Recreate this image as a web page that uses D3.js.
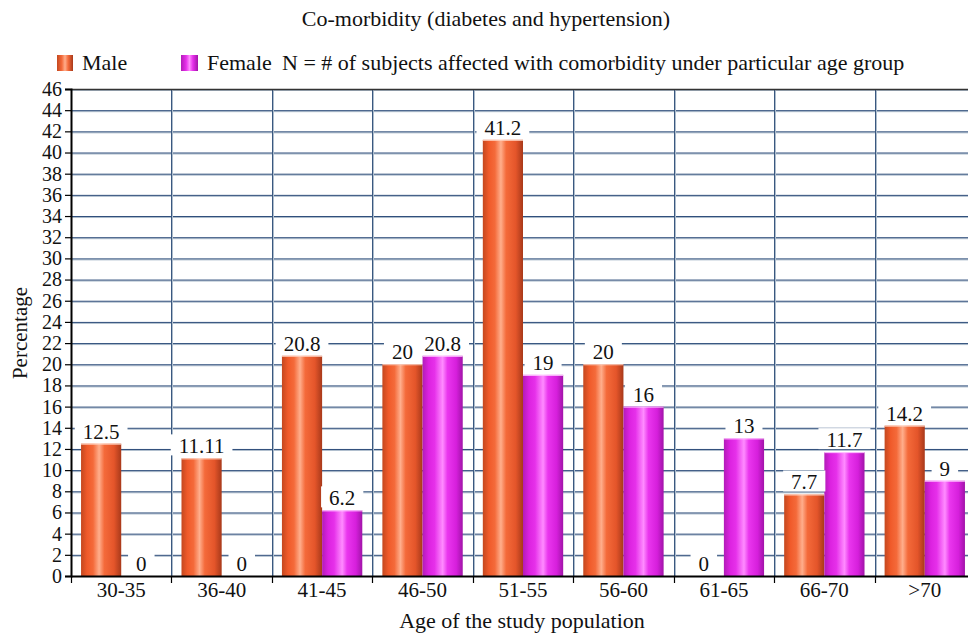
<!DOCTYPE html>
<html>
<head>
<meta charset="utf-8">
<script src="https://cdn.jsdelivr.net/npm/d3@7/dist/d3.min.js"></script>
<style>
  html, body { margin: 0; padding: 0; background: #fff; }
  svg text { font-family: "Liberation Serif", "DejaVu Serif", serif; }
</style>
</head>
<body>
<svg id="chart" width="968" height="635"></svg>
<script>
// Age groups and percentage of subjects with both diabetes and hypertension
const ageGroups = ["30-35", "36-40", "41-45", "46-50", "51-55", "56-60", "61-65", "66-70", ">70"];
const maleValues = [12.5, 11.11, 20.8, 20, 41.2, 20, 0, 7.7, 14.2];
const femaleValues = [0, 0, 6.2, 20.8, 19, 16, 13, 11.7, 9];
const maleLabels = ["12.5", "11.11", "20.8", "20", "41.2", "20", "0", "7.7", "14.2"];
const femaleLabels = ["0", "0", "6.2", "20.8", "19", "16", "13", "11.7", "9"];
const yTicks = d3.range(0, 47, 2);
const seriesNames = ["Male", "Female"];

const FONT = "'Liberation Serif', 'DejaVu Serif', serif";
const INK = "#111";
const svg = d3.select("#chart");
const plotL = 71, plotR = 975, plotT = 89, plotB = 576;

const x = d3.scaleBand().domain(ageGroups).range([plotL, plotR]).paddingInner(0).paddingOuter(0);
const xs = d3.scaleBand().domain(seriesNames).range([0, x.bandwidth()]).paddingInner(0).paddingOuter(0.25);
const y = d3.scaleLinear().domain([0, 46]).range([plotB, plotT]);

// Gradients for the cylindrical bar shading
const defs = svg.append("defs");
function makeGrad(id, stops) {
  const g = defs.append("linearGradient").attr("id", id).attr("x1", "0%").attr("x2", "100%").attr("y1", "0%").attr("y2", "0%");
  stops.forEach(s => g.append("stop").attr("offset", s[0]).attr("stop-color", s[1]));
}
makeGrad("gMale", [["0%", "#c4481f"], ["15%", "#f05a2a"], ["30%", "#f46a3a"], ["45%", "#ffae8c"], ["58%", "#f46a3a"], ["82%", "#e4552a"], ["100%", "#a8391a"]]);
makeGrad("gFemale", [["0%", "#b21cb8"], ["15%", "#dc22e0"], ["30%", "#e630ea"], ["50%", "#ff8cff"], ["62%", "#ea36ee"], ["84%", "#d61fdc"], ["100%", "#a114a8"]]);
makeGrad("gMaleSw", [["0%", "#c4481f"], ["30%", "#f46a3a"], ["50%", "#ffae8c"], ["70%", "#f46a3a"], ["100%", "#a8391a"]]);
makeGrad("gFemaleSw", [["0%", "#b21cb8"], ["30%", "#e630ea"], ["50%", "#ff8cff"], ["70%", "#e630ea"], ["100%", "#a114a8"]]);

// Horizontal gridlines (dark line with a pale line beneath)
const grid = svg.append("g");
yTicks.filter(t => t > 0).forEach(t => {
  grid.append("line").attr("x1", plotL).attr("x2", plotR).attr("y1", y(t) + 1.5).attr("y2", y(t) + 1.5)
    .attr("stroke", "#aebdcc").attr("stroke-width", 1);
  grid.append("line").attr("x1", plotL).attr("x2", plotR).attr("y1", y(t) + 0.5).attr("y2", y(t) + 0.5)
    .attr("stroke", "#2a4a78").attr("stroke-width", 1);
});
// Vertical gridlines at category boundaries
ageGroups.slice(1).forEach(g => {
  const xv = Math.round(x(g));
  grid.append("line").attr("x1", xv + 1.5).attr("x2", xv + 1.5).attr("y1", plotT).attr("y2", plotB)
    .attr("stroke", "#aebdcc").attr("stroke-width", 1);
  grid.append("line").attr("x1", xv + 0.5).attr("x2", xv + 0.5).attr("y1", plotT).attr("y2", plotB)
    .attr("stroke", "#3a5880").attr("stroke-width", 1);
});
// Top border
grid.append("line").attr("x1", plotL).attr("x2", plotR).attr("y1", plotT + 0.5).attr("y2", plotT + 0.5)
  .attr("stroke", "#333").attr("stroke-width", 1.5);

// Bars
const rows = ageGroups.map((g, i) => ({ g, vals: [
  { s: "Male", v: maleValues[i], label: maleLabels[i] },
  { s: "Female", v: femaleValues[i], label: femaleLabels[i] }
]}));
const groups = svg.append("g").selectAll("g").data(rows).join("g")
  .attr("transform", d => `translate(${x(d.g)},0)`);
groups.selectAll("rect.bar").data(d => d.vals.filter(v => v.v > 0)).join("rect")
  .attr("class", "bar")
  .attr("x", d => xs(d.s))
  .attr("width", xs.bandwidth())
  .attr("y", d => y(d.v))
  .attr("height", d => y(0) - y(d.v))
  .attr("fill", d => d.s === "Male" ? "url(#gMale)" : "url(#gFemale)");
// Light cap on bar tops
groups.selectAll("line.cap").data(d => d.vals.filter(v => v.v > 0)).join("line")
  .attr("class", "cap")
  .attr("x1", d => xs(d.s)).attr("x2", d => xs(d.s) + xs.bandwidth())
  .attr("y1", d => y(d.v) + 0.5).attr("y2", d => y(d.v) + 0.5)
  .attr("stroke", d => d.s === "Male" ? "#ffd2c0" : "#ffc8ff").attr("stroke-width", 1);

// Value labels with white backing
groups.each(function(d) {
  const g = d3.select(this);
  d.vals.forEach(v => {
    const cx = xs(v.s) + xs.bandwidth() / 2;
    const base = y(v.v) - 5;
    const t = g.append("text").attr("x", cx).attr("y", base).attr("text-anchor", "middle")
      .attr("font-family", FONT).attr("font-size", 21).attr("fill", INK).text(v.label);
    const bb = t.node().getBBox();
    g.insert("rect", "text").attr("x", bb.x - 8).attr("y", base - 19).attr("width", bb.width + 16)
      .attr("height", 21).attr("fill", "#fff");
  });
});

// Axes
const yAxis = svg.append("g").attr("transform", `translate(${plotL},0)`)
  .call(d3.axisLeft(y).tickValues(yTicks).tickSize(6).tickPadding(3));
yAxis.attr("font-family", FONT);
yAxis.select(".domain").attr("stroke", "#000").attr("stroke-width", 2);
yAxis.selectAll(".tick line").attr("stroke", "#000").attr("stroke-width", 1.2);
yAxis.selectAll("text").attr("font-size", 20).attr("fill", INK).attr("font-family", FONT);

const xAxis = svg.append("g").attr("transform", `translate(0,${plotB})`)
  .call(d3.axisBottom(x).tickSize(0));
xAxis.attr("font-family", FONT);
xAxis.select(".domain").attr("stroke", "#000").attr("stroke-width", 2);
xAxis.selectAll("text").attr("dy", null).attr("y", 21)
  .attr("font-size", 21).attr("fill", INK).attr("font-family", FONT);
// Boundary ticks between categories
ageGroups.forEach(g => {
  svg.append("line").attr("x1", Math.round(x(g)) + 0.5).attr("x2", Math.round(x(g)) + 0.5)
    .attr("y1", plotB).attr("y2", plotB + 7).attr("stroke", "#000").attr("stroke-width", 1.2);
});

// Titles
svg.append("text").attr("x", 486).attr("y", 26).attr("text-anchor", "middle").attr("font-family", FONT)
  .attr("font-size", 22).attr("fill", INK).text("Co-morbidity (diabetes and hypertension)");
svg.append("text").attr("x", 522).attr("y", 628).attr("text-anchor", "middle").attr("font-family", FONT)
  .attr("font-size", 22).attr("fill", INK).text("Age of the study population");
svg.append("text").attr("transform", "translate(27,333) rotate(-90)").attr("text-anchor", "middle")
  .attr("font-family", FONT).attr("font-size", 21).attr("fill", INK).text("Percentage");

// Legend
const legend = svg.append("g").attr("font-family", FONT);
legend.append("rect").attr("x", 57).attr("y", 55).attr("width", 16).attr("height", 16).attr("fill", "url(#gMaleSw)");
legend.append("text").attr("x", 82).attr("y", 70).attr("font-family", FONT).attr("font-size", 22).attr("fill", INK).text("Male");
legend.append("rect").attr("x", 181).attr("y", 55).attr("width", 17).attr("height", 16).attr("fill", "url(#gFemaleSw)");
legend.append("text").attr("x", 207).attr("y", 70).attr("font-family", FONT).attr("font-size", 22).attr("fill", INK).text("Female");
legend.append("text").attr("x", 282).attr("y", 70).attr("font-family", FONT).attr("font-size", 22).attr("fill", INK)
  .text("N = # of subjects affected with comorbidity under particular age group");
</script>
</body>
</html>
